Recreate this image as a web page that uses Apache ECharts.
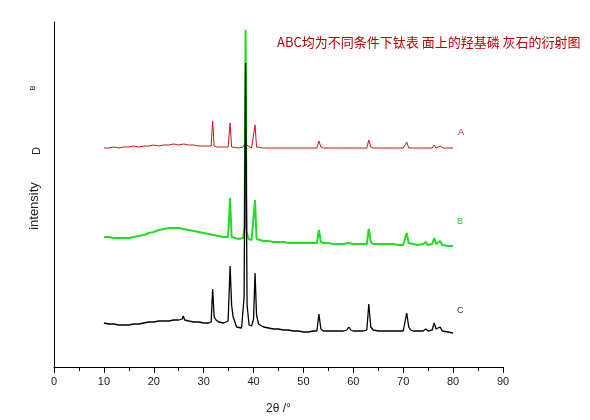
<!DOCTYPE html>
<html>
<head>
<meta charset="utf-8">
<script src="https://cdn.jsdelivr.net/npm/echarts@6/dist/echarts.min.js"></script>
<style>
  html, body { margin: 0; padding: 0; background: #fff; }
  #chart { width: 590px; height: 420px; }
</style>
</head>
<body>
<div id="chart"></div>
<script>
// 2θ (deg) vs intensity (arbitrary units, curves stacked by offset)
const curveA = [
  [10,219],[11,219],[12,220],[13,219],[14,220],[15,220],[16,221],[17,220],[18,221],[19,221],
  [20,222],[21,221],[22,222],[23,222],[24,223],[25,222],[26,223],[27,222],[28,222],[29,221],
  [30,221],[31,221],[31.5,221],[31.8,246],[32.1,221],[32.6,220],[33,220],[34,220],[34.9,220],
  [35.3,244],[35.6,220],[36,220],[37,219],[37.9,220],[38.2,223],[38.4,319],[38.6,222],[39,220],
  [39.6,219],[40,220],[40.3,242],[40.6,220],[41,219],[42,219],[43,219],[44,219],[45,219],
  [46,219],[47,219],[48,219],[49,219],[50,219],[51,219],[52,219],[52.7,219],[53.1,226],
  [53.5,220],[54,219],[55,219],[56,219],[57,219],[58,219],[59,219],[60,219],[61,219],[62,219],
  [62.7,219],[63.1,227],[63.5,220],[64,219],[65,219],[66,219],[66.4,221],[67,219],[68,219],
  [69,219],[70,219],[70.4,219],[70.7,225],[71.1,219],[72,219],[73,219],[74,219],[75,219],
  [75.8,219],[76.2,222],[76.6,219],[77,219],[77.4,221],[77.8,219],[78,219],[79,219],[80,219]
];
const curveB = [
  [10,130],[11,130],[12,129],[13,129],[14,129],[15,129],[16,130],[17,131],[18,132],[19,134],
  [20,135],[21,137],[22,138],[23,139],[24,139],[25,139],[26,138],[27,137],[28,136],[29,135],
  [30,134],[31,133],[32,132],[33,131],[34,130],[34.9,130],[35.3,169],[35.6,130],[36,129],
  [37,128],[37.9,129],[38.2,140],[38.4,337],[38.6,135],[39,128],[39.6,127],[40,128],[40.3,167],
  [40.6,128],[41,127],[42,126],[43,126],[44,125],[45,125],[46,125],[47,124],[48,124],[49,124],
  [50,124],[51,124],[52,124],[52.7,124],[53.1,137],[53.5,125],[54,124],[55,124],[56,123],
  [57,123],[58,123],[59,124],[60,123],[61,123],[62,123],[62.7,123],[63.1,138],[63.5,125],
  [64,123],[65,123],[66,123],[67,123],[68,123],[69,122],[70,122],[70.4,123],[70.7,134],
  [71.1,124],[72,123],[73,122],[74,123],[74.5,125],[75,122],[75.8,123],[76.2,129],[76.6,123],
  [77,123],[77.4,126],[77.8,122],[78,122],[79,121],[80,121]
];
const curveC = [
  [10,44],[11,43],[12,43],[13,42],[14,42],[15,42],[16,43],[17,43],[18,44],[19,45],[20,45],
  [21,46],[22,46],[23,46],[24,47],[25,47],[25.7,48],[25.9,51],[26.2,47],[27,46],[28,45],
  [29,45],[30,44],[31,44],[31.5,45],[31.8,78],[32.1,50],[32.5,47],[33,45],[34,44],[34.9,46],
  [35.3,101],[35.6,62],[35.9,50],[36.2,46],[36.6,40],[37,38],[37.6,39],[38.1,70],[38.4,304],
  [38.7,62],[39.1,42],[39.6,41],[40,48],[40.3,94],[40.6,52],[41,43],[42,40],[43,39],[44,38],
  [45,38],[46,37],[47,37],[48,36],[49,36],[50,35],[51,35],[52,36],[52.7,36],[53.1,53],
  [53.5,38],[54,36],[55,36],[56,36],[57,36],[58,36],[58.7,37],[59.1,40],[59.5,37],[60,36],
  [61,36],[62,36],[62.7,37],[63.1,63],[63.5,40],[64,37],[65,36],[66,36],[67,36],[68,36],
  [69,36],[70,36],[70.4,37],[70.7,54],[71.1,40],[71.5,37],[72,36],[73,36],[74,36],[74.5,38],
  [75,36],[75.8,37],[76.2,44],[76.6,38],[77,37],[77.4,40],[77.8,36],[78,35],[79,35],[80,34]
];
const seriesNames = ['A', 'B', 'C'];
const seriesColors = ['#c8141e', '#22dd22', '#000000'];
const titleText = 'ABC均为不同条件下钛表 面上的羟基磷 灰石的衍射图';

const chart = echarts.init(document.getElementById('chart'));

const option = {
  animation: false,
  backgroundColor: '#fff',
  grid: { left: 54, right: 87, top: 22, bottom: 53 },
  xAxis: {
    type: 'value',
    min: 0,
    max: 90,
    interval: 10,
    name: '2θ /°',
    nameLocation: 'middle',
    nameGap: 36,
    nameTextStyle: { fontFamily: 'Liberation Sans', fontSize: 12, color: '#222' },
    axisLine: { lineStyle: { color: '#000', width: 1 } },
    axisTick: { show: true, inside: false, length: 6, lineStyle: { color: '#000' } },
    minorTick: { show: true, splitNumber: 2, length: 4, lineStyle: { color: '#000' } },
    axisLabel: { fontFamily: 'Liberation Sans', fontSize: 11, color: '#222', margin: 9 },
    splitLine: { show: false }
  },
  yAxis: {
    type: 'value',
    min: 0,
    max: 345,
    axisLine: { show: true, lineStyle: { color: '#000', width: 1 } },
    axisTick: { show: false },
    axisLabel: { show: false },
    splitLine: { show: false }
  },
  series: [
    { name: seriesNames[0], type: 'line', data: curveA, symbol: 'none',
      lineStyle: { color: seriesColors[0], width: 1 } },
    { name: seriesNames[1], type: 'line', data: curveB, symbol: 'none',
      lineStyle: { color: seriesColors[1], width: 2 } },
    { name: seriesNames[2], type: 'line', data: curveC, symbol: 'none',
      lineStyle: { color: seriesColors[2], width: 1.3 } }
  ],
  graphic: [
    { type: 'text', left: 277, top: 36,
      style: { text: titleText, fill: '#c00000', fontSize: 13,
               fontFamily: '"Noto Sans CJK SC", sans-serif' } },
    { type: 'text', left: 458, top: 128,
      style: { text: 'A', fill: seriesColors[0], fontSize: 9, fontFamily: 'Liberation Sans' } },
    { type: 'text', left: 457, top: 217,
      style: { text: 'B', fill: seriesColors[1], fontSize: 9, fontFamily: 'Liberation Sans' } },
    { type: 'text', left: 457, top: 306,
      style: { text: 'C', fill: '#333', fontSize: 9, fontFamily: 'Liberation Sans' } },
    { type: 'text', x: 33, y: 88, rotation: Math.PI / 2,
      style: { text: 'B', fill: '#222', fontSize: 8, fontFamily: 'Liberation Sans',
               align: 'center', verticalAlign: 'middle' } },
    { type: 'text', x: 37, y: 151, rotation: Math.PI / 2,
      style: { text: 'D', fill: '#222', fontSize: 11, fontFamily: 'Liberation Sans',
               align: 'center', verticalAlign: 'middle' } },
    { type: 'text', x: 34, y: 206, rotation: Math.PI / 2,
      style: { text: 'intensity', fill: '#222', fontSize: 13, fontFamily: 'Liberation Sans',
               align: 'center', verticalAlign: 'middle' } }
  ]
};

chart.setOption(option);
</script>
</body>
</html>
